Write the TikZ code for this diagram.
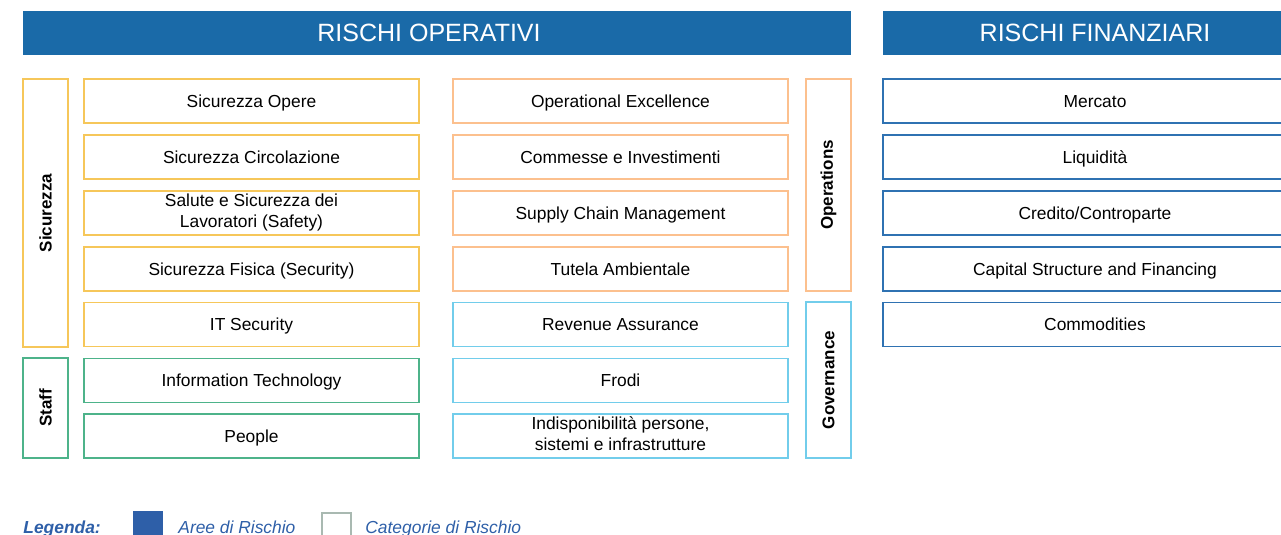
\documentclass[tikz,border=0pt]{standalone}
\usepackage{fontspec}
\setmainfont{Liberation Sans}

\definecolor{areablue}{HTML}{1A6AA8}
\definecolor{sicyellow}{HTML}{F6C75A}
\definecolor{opsorange}{HTML}{FCC08E}
\definecolor{staffgreen}{HTML}{4DB38A}
\definecolor{govblue}{HTML}{72CDEB}
\definecolor{finblue}{HTML}{2F72B2}
\definecolor{legblue}{HTML}{2E5FA8}
\definecolor{leggrey}{HTML}{A9B9B1}

\begin{document}
\begin{tikzpicture}[x=0.5pt,y=-0.5pt,
    area/.style = {
      fill = areablue,
      text = white,
      inner sep = 0pt,
      minimum height = 22pt,
      font = \fontsize{12.5}{14}\selectfont
    },
    cat/.style = {
      draw,
      line width = 0.9pt,
      fill = white,
      minimum width = 167.5pt,
      minimum height = 22pt,
      inner sep = 0pt,
      align = center,
      execute at begin node = \rule[-2pt]{0pt}{10.2pt},
      execute at end node = \rule[-2pt]{0pt}{10.2pt},
      font = \fontsize{8.7}{10.5}\selectfont
    },
    fin/.style = {cat, draw = finblue, minimum width = 212pt},
    group/.style = {
      draw,
      line width = 0.9pt,
      rotate = 90,
      minimum height = 22.5pt,
      inner sep = 0pt,
      font = \bfseries\fontsize{8.5}{10}\selectfont
    },
    legtext/.style = {anchor = base west, text = legblue, inner sep = 0pt,
      font = \itshape\fontsize{8.7}{10}\selectfont}
  ]
  \clip (0,0) rectangle (1281,535);

  % headers
  \node[area, minimum width = 414pt] (oper) at (437,33) {\hspace{-8pt}RISCHI OPERATIVI};
  \node[area, minimum width = 212pt] (finan) at (1095,33) {RISCHI FINANZIARI};

  % groups
  \node[group, draw = sicyellow, minimum width = 134pt] (sicur) at (45.5,213) {Sicurezza};
  \node[group, draw = staffgreen, minimum width = 50pt] (staff) at (45.5,408) {Staff};
  \node[group, draw = opsorange, minimum width = 106pt] (ops) at (828.5,185) {Operations};
  \node[group, draw = govblue, minimum width = 78pt] (gov) at (828.5,380) {Governance};

  % first column
  \node[cat, draw = sicyellow] (opere) at (251.5,101) {Sicurezza Opere};
  \node[cat, draw = sicyellow] (circ) at (251.5,157) {Sicurezza Circolazione};
  \node[cat, draw = sicyellow] (safety) at (251.5,213) {Salute e Sicurezza dei\\Lavoratori (Safety)};
  \node[cat, draw = sicyellow] (fisica) at (251.5,269) {Sicurezza Fisica (Security)};
  \node[cat, draw = sicyellow] (itsec) at (251.5,324.5) {IT Security};
  \node[cat, draw = staffgreen] (infotech) at (251.5,380.5) {Information Technology};
  \node[cat, draw = staffgreen] (people) at (251.5,436) {People};

  % second column
  \node[cat, draw = opsorange] (excel) at (620.5,101) {Operational Excellence};
  \node[cat, draw = opsorange] (comm) at (620.5,157) {Commesse e Investimenti};
  \node[cat, draw = opsorange] (supply) at (620.5,213) {Supply Chain Management};
  \node[cat, draw = opsorange] (tutela) at (620.5,269) {Tutela Ambientale};
  \node[cat, draw = govblue] (revenue) at (620.5,324.5) {Revenue Assurance};
  \node[cat, draw = govblue] (frodi) at (620.5,380.5) {Frodi};
  \node[cat, draw = govblue] (indisp) at (620.5,436) {Indisponibilità persone,\\ sistemi e infrastrutture};

  % financial column
  \node[fin] (mercato) at (1095,101) {Mercato};
  \node[fin] (liquid) at (1095,157) {Liquidità};
  \node[fin] (credito) at (1095,213) {Credito/Controparte};
  \node[fin] (capital) at (1095,269) {Capital Structure and Financing};
  \node[fin] (commod) at (1095,324.5) {Commodities};

  % legend
  \node[legtext, font = \bfseries\itshape\fontsize{8.7}{10}\selectfont] (legenda) at (23,533) {Legenda:};
  \node[fill = legblue, minimum size = 15pt, inner sep = 0pt, anchor = north west] (legarea) at (133,511) {};
  \node[legtext] (legareatxt) at (178,533) {Aree di Rischio};
  \node[draw = leggrey, line width = 1.1pt, minimum size = 14.5pt, inner sep = 0pt, anchor = north west] (legcat) at (320.5,512) {};
  \node[legtext] (legcattxt) at (365,533) {Categorie di Rischio};
\end{tikzpicture}
\end{document}
